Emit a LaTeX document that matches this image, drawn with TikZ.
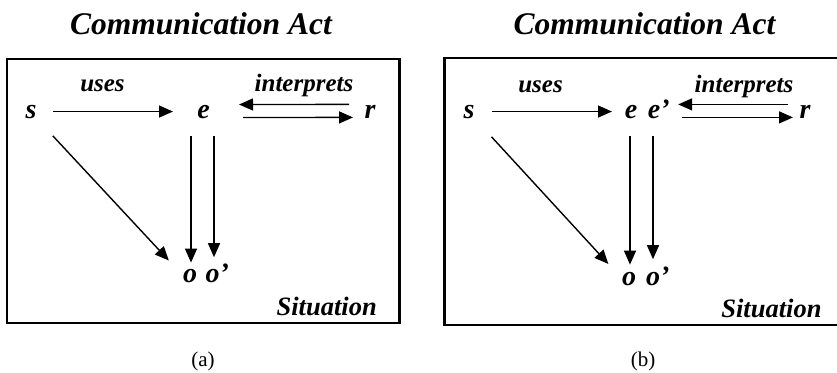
\documentclass[tikz,border=0pt]{standalone}
\usepackage{fontspec}
\setmainfont{Liberation Serif}
\usetikzlibrary{arrows.meta, positioning}

\begin{document}
\begin{tikzpicture}[x=1pt, y=-1pt,
    headline/.style={font=\fontsize{31.5}{33}\selectfont\bfseries\itshape, anchor=base, inner sep=0pt},
    var/.style={font=\fontsize{28}{30}\selectfont\bfseries\itshape, anchor=base, inner sep=0pt},
    lbl/.style={font=\fontsize{25}{27}\selectfont\bfseries\itshape, anchor=base, inner sep=0pt},
    sit/.style={font=\fontsize{26.5}{28}\selectfont\bfseries\itshape, anchor=base east, inner sep=0pt},
    subcap/.style={font=\fontsize{21}{23}\selectfont, anchor=base, inner sep=0pt},
    frame/.style={line width=2.5pt},
    arr/.style={line width=1.4pt, -{Triangle[length=14pt, width=12pt]}}]
    \useasboundingbox (0,0) rectangle (837,372);

    % Panel (a)
    \node[headline] (titleA) at (201,34) {Communication Act};
    \draw[frame] (7,59) rectangle (399.5,323);
    \node[var] (sA) at (31,118) {s};
    \node[var] (eA) at (203.5,118) {e};
    \node[var] (rA) at (370,118) {r};
    \node[var] (oA) at (190,282) {o};
    \node[var] (opA) at (217.2,282) {o’};
    \node[lbl] (usesA) at (102.5,91) {uses};
    \node[lbl] (interpA) at (304,91) {interprets};
    \node[sit] (sitA) at (377,315) {Situation};
    \node[subcap] (capA) at (203,366) {(a)};

    \draw[arr, shorten <=22pt, shorten >=30.5pt] (sA.center) -- (eA.center);
    \draw[arr, shorten <=21pt, shorten >=35.5pt] ([yshift=7pt]rA.center) -- ([yshift=7pt]eA.center);
    \draw[arr, shorten <=39.5pt, shorten >=17pt] ([yshift=-6pt]eA.center) -- ([yshift=-6pt]rA.center);
    \draw[arr, shorten <=23.7pt, shorten >=20.5pt] (sA.south east) -- (oA.west);
    \draw[arr, shorten <=18pt, shorten >=6pt] ([xshift=1pt]oA.north |- eA.south) -- ([xshift=1pt]oA.north);
    \draw[arr, shorten <=18pt, shorten >=6pt] ([xshift=-3.2pt]opA.north |- eA.south) -- ([xshift=-3.2pt]opA.north);

    % Panel (b)
    \node[headline] (titleB) at (644.5,34) {Communication Act};
    \draw[frame] (840,58) -- (444.5,58) -- (444.5,325) -- (840,325);
    \node[var] (sB) at (469,118) {s};
    \node[var] (eB) at (631,118) {e};
    \node[var] (epB) at (658.7,118) {e’};
    \node[var] (rB) at (805,118) {r};
    \node[var] (oB) at (629,285) {o};
    \node[var] (opB) at (657.7,285) {o’};
    \node[lbl] (usesB) at (540.5,92) {uses};
    \node[lbl] (interpB) at (744,92) {interprets};
    \node[sit] (sitB) at (821.7,317) {Situation};
    \node[subcap] (capB) at (643,366) {(b)};

    \draw[arr, shorten <=23pt, shorten >=19pt] (sB.center) -- (eB.center);
    \draw[arr, shorten <=17pt, shorten >=8.4pt] ([yshift=7pt]rB.center) -- ([yshift=7pt]epB.east |- rB.center);
    \draw[arr, shorten <=12.4pt, shorten >=12pt] ([yshift=-6pt]epB.east |- rB.center) -- ([yshift=-6pt]rB.center);
    \draw[arr, shorten <=25pt, shorten >=19.8pt] (sB.south east) -- (oB.west);
    \draw[arr, shorten <=18pt, shorten >=7pt] ([xshift=1pt]oB.north |- eB.south) -- ([xshift=1pt]oB.north);
    \draw[arr, shorten <=18pt, shorten >=7pt] ([xshift=-4.7pt]opB.north |- epB.south) -- ([xshift=-4.7pt]opB.north);
\end{tikzpicture}
\end{document}
